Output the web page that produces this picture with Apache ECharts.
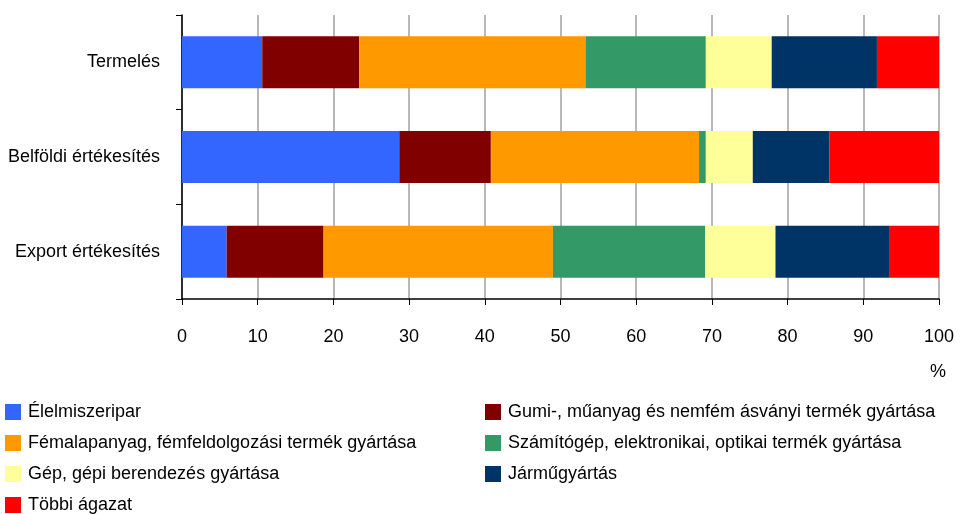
<!DOCTYPE html>
<html>
<head>
<meta charset="utf-8">
<script src="https://cdn.jsdelivr.net/npm/echarts@6/dist/echarts.min.js"></script>
<style>
  html, body { margin: 0; padding: 0; background: #fff; }
  #chart { width: 960px; height: 514px; }
</style>
</head>
<body>
<div id="chart"></div>
<script>
// kategóriák (fentről lefelé)
const categories = ['Termelés', 'Belföldi értékesítés', 'Export értékesítés'];

const seriesNames = [
  'Élelmiszeripar',
  'Gumi-, műanyag és nemfém ásványi termék gyártása',
  'Fémalapanyag, fémfeldolgozási termék gyártása',
  'Számítógép, elektronikai, optikai termék gyártása',
  'Gép, gépi berendezés gyártása',
  'Járműgyártás',
  'Többi ágazat'
];

// megoszlás, % (Termelés, Belföldi, Export)
const elelmiszer = [10.6, 28.7, 5.9];
const gumi = [12.8, 12.1, 12.8];
const femalap = [29.9, 27.5, 30.3];
const szamitogep = [15.9, 0.9, 20.1];
const gep = [8.7, 6.2, 9.3];
const jarmu = [13.9, 10.1, 15.0];
const tobbi = [8.2, 14.5, 6.6];

const xTicks = [0, 10, 20, 30, 40, 50, 60, 70, 80, 90, 100];

const colors = ['#3366ff', '#800000', '#ff9900', '#339966', '#ffff99', '#003366', '#ff0000'];
const values = [elelmiszer, gumi, femalap, szamitogep, gep, jarmu, tobbi];

const FONT = "'Liberation Sans', Arial, sans-serif";
const FS = 18;

const chart = echarts.init(document.getElementById('chart'), null, { renderer: 'canvas' });

const legendBase = {
  orient: 'vertical',
  top: 403,
  height: 140,
  padding: 0,
  itemWidth: 16,
  itemHeight: 16,
  itemGap: 13,
  icon: 'rect',
  selectedMode: false,
  textStyle: { fontFamily: FONT, fontSize: FS, color: '#000', padding: [0, 0, 0, 2] }
};

chart.setOption({
  animation: false,
  backgroundColor: '#fff',
  color: colors,
  grid: { left: 182, right: 21, top: 15, bottom: 215, containLabel: false, outerBoundsMode: 'none' },
  legend: [
    Object.assign({}, legendBase, {
      left: 5,
      data: [seriesNames[0], seriesNames[2], seriesNames[4], seriesNames[6]]
    }),
    Object.assign({}, legendBase, {
      left: 485,
      data: [seriesNames[1], seriesNames[3], seriesNames[5]]
    })
  ],
  xAxis: {
    type: 'value',
    min: xTicks[0],
    max: xTicks[xTicks.length - 1],
    interval: 10,
    axisLine: { show: true, lineStyle: { color: '#000', width: 1.5 } },
    axisTick: { show: true, length: 6, lineStyle: { color: '#000' } },
    axisLabel: { fontFamily: FONT, fontSize: FS, color: '#000', margin: 29 },
    splitLine: { show: true, lineStyle: { color: '#a0a0a0', width: 1.5 } }
  },
  yAxis: {
    type: 'category',
    data: categories,
    inverse: true,
    axisLine: { show: true, lineStyle: { color: '#000', width: 1.5 } },
    axisTick: { show: true, length: 6, lineStyle: { color: '#000' } },
    axisLabel: { fontFamily: FONT, fontSize: FS, color: '#000', margin: 22 }
  },
  graphic: [{
    type: 'text',
    left: 930,
    top: 363,
    style: { text: '%', fontFamily: FONT, fontSize: FS, fill: '#000' }
  }],
  series: seriesNames.map((name, i) => ({
    name: name,
    type: 'bar',
    stack: 'total',
    barCategoryGap: '45%',
    data: values[i],
    itemStyle: { color: colors[i] }
  }))
});
</script>
</body>
</html>
